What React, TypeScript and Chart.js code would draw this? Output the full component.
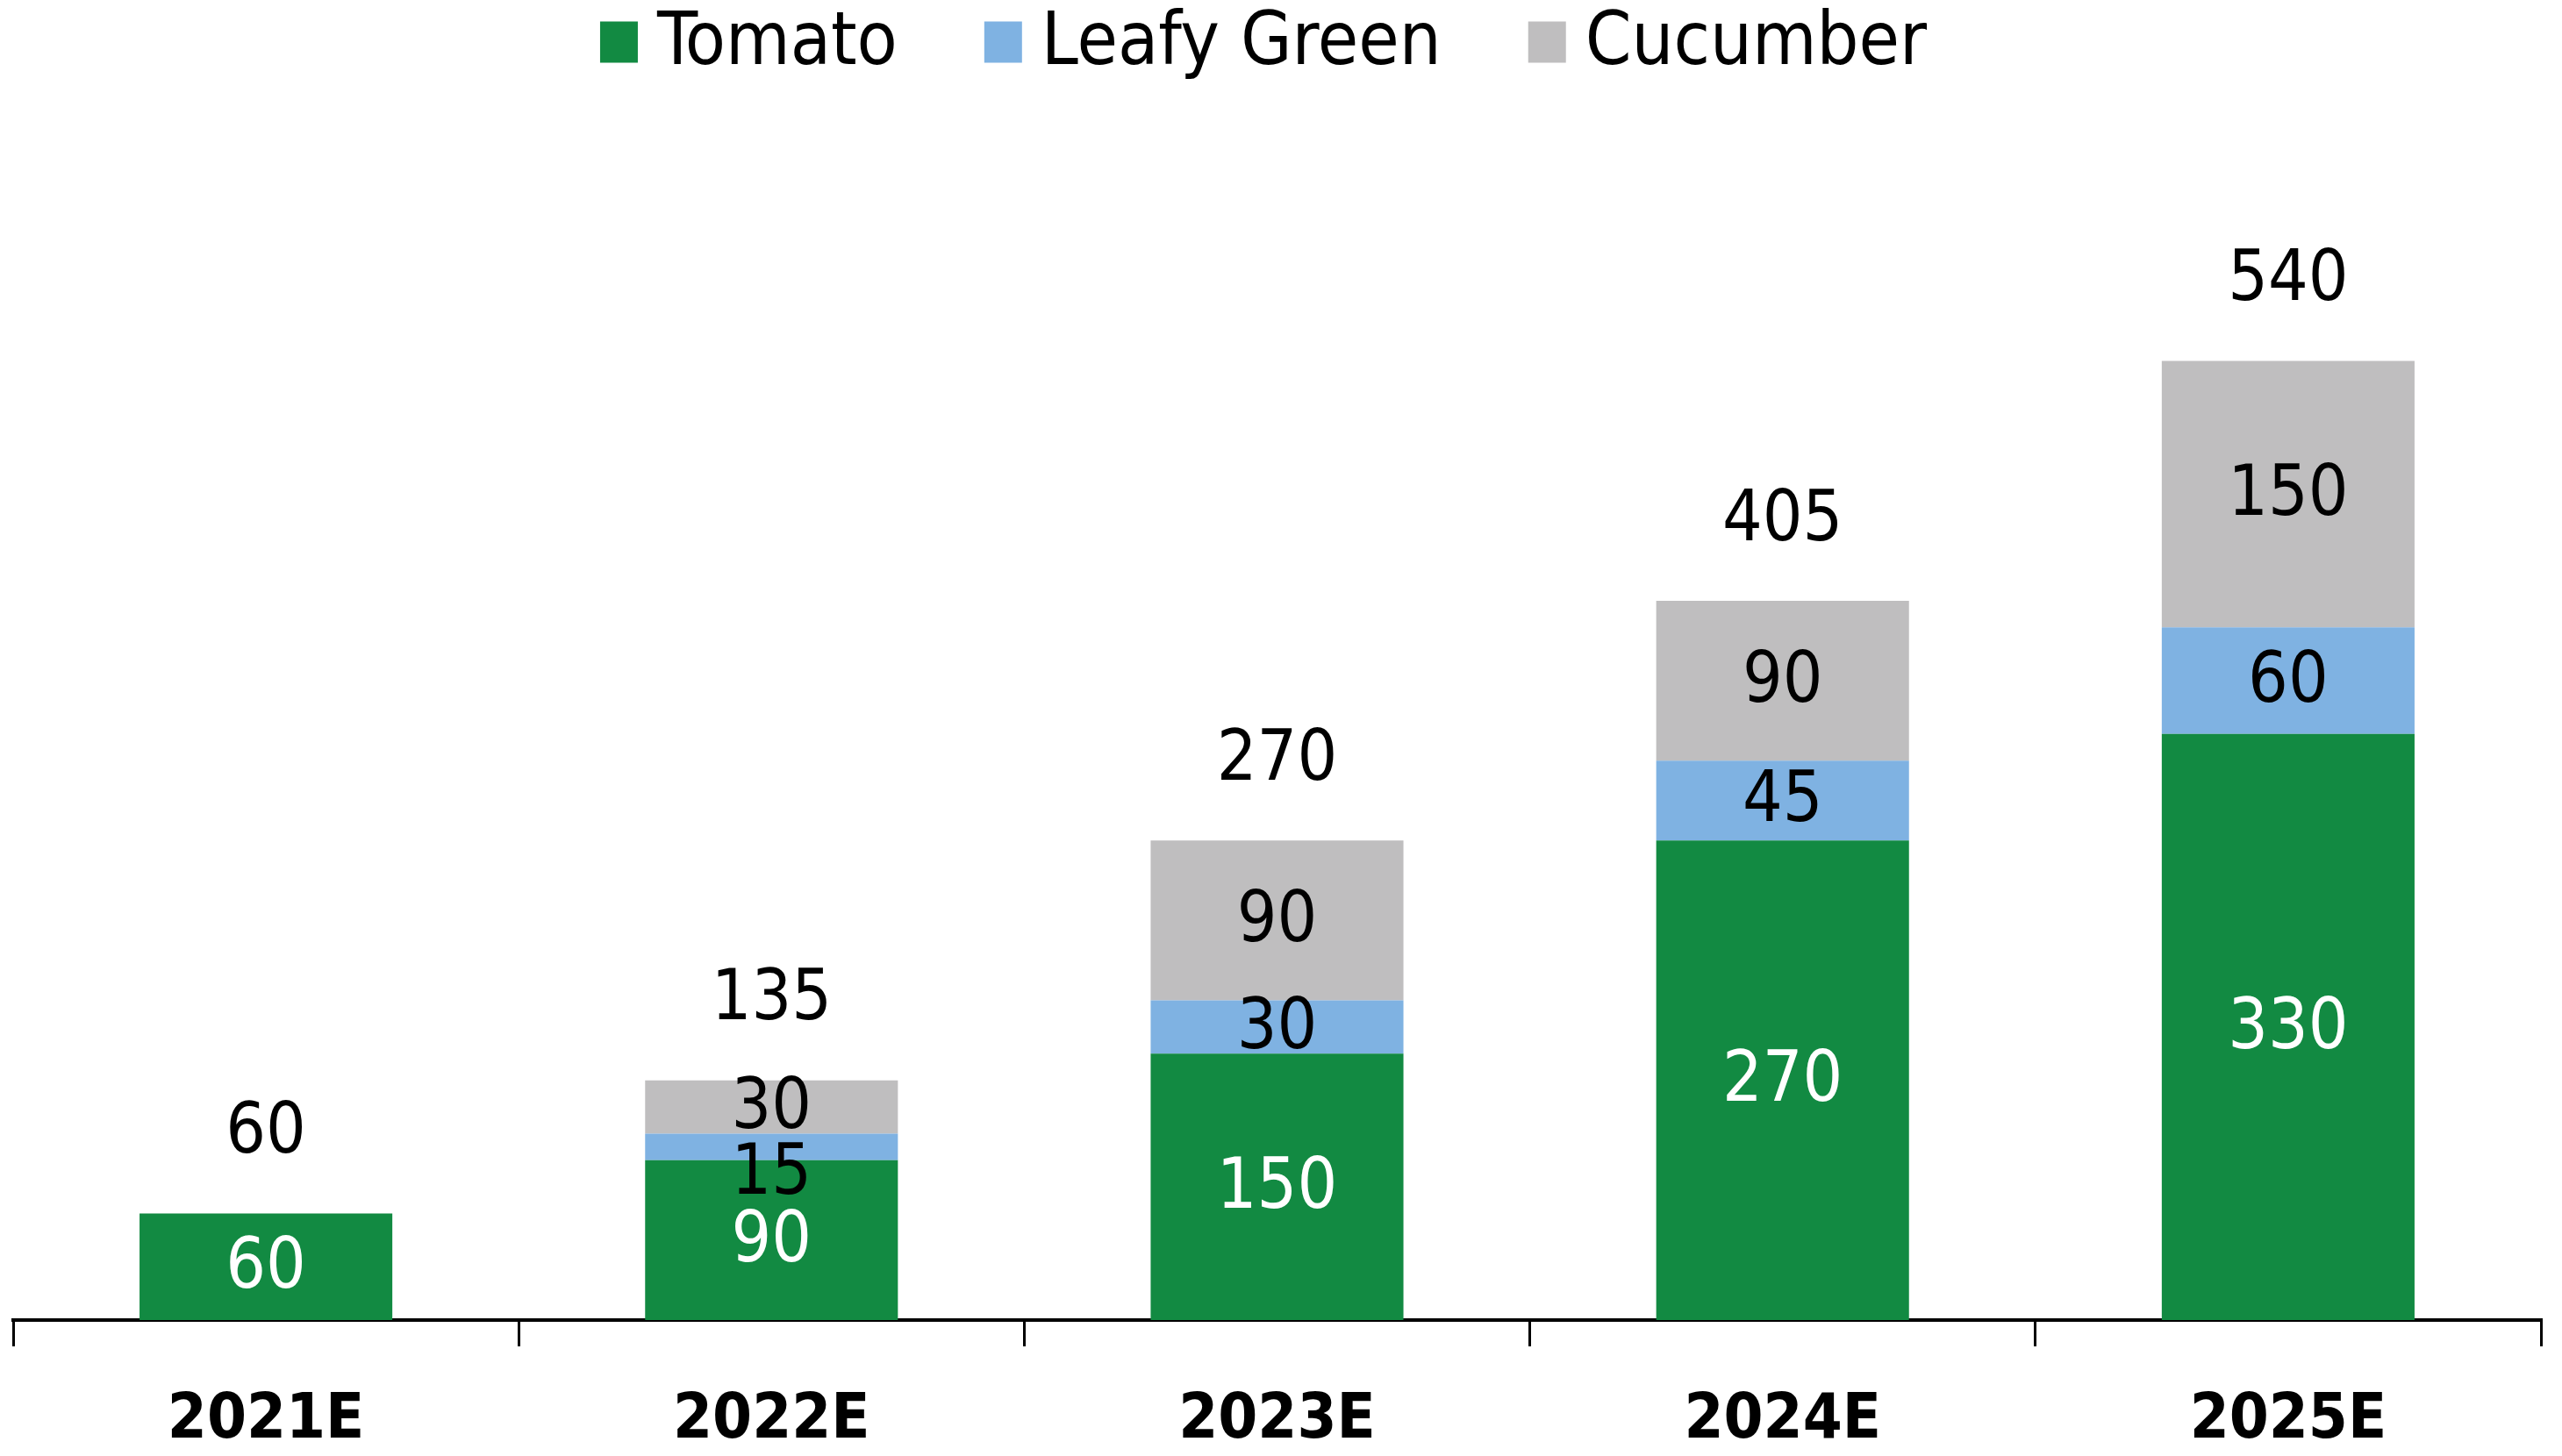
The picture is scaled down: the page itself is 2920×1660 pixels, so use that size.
import React, { useEffect, useRef } from "react";
import { Chart, registerables } from "chart.js";

Chart.register(...registerables);

const categories = ["2021E", "2022E", "2023E", "2024E", "2025E"];
const tomato = [60, 90, 150, 270, 330];
const leafyGreen = [0, 15, 30, 45, 60];
const cucumber = [0, 30, 90, 90, 150];
const seriesNames = ["Tomato", "Leafy Green", "Cucumber"];
const seriesColors = ["#128a42", "#7fb2e2", "#bfbebf"];
const labelColors = ["#ffffff", "#000000", "#000000"];

const FONT = "'DejaVu Sans Condensed', 'Liberation Sans Narrow', sans-serif";

const segmentLabels = {
  id: "segmentLabels",
  afterDatasetsDraw(chart: any) {
    const ctx = chart.ctx;
    ctx.save();
    ctx.font = `80px ${FONT}`;
    ctx.textAlign = "center";
    ctx.textBaseline = "middle";
    const n = chart.data.labels.length;
    for (let i = 0; i < n; i++) {
      let topY = Infinity;
      let total = 0;
      let x = 0;
      chart.data.datasets.forEach((ds: any, d: number) => {
        if (!chart.isDatasetVisible(d)) return;
        const el = chart.getDatasetMeta(d).data[i];
        const v = ds.data[i];
        if (!el) return;
        x = el.x;
        total += v;
        if (v > 0) {
          topY = Math.min(topY, el.y);
          const h = el.base - el.y;
          let cy = (el.y + el.base) / 2 + 3;
          if (h < 40) cy += 30;
          ctx.fillStyle = labelColors[d];
          ctx.fillText(String(v), el.x, cy);
        }
      });
      ctx.fillStyle = "#000000";
      ctx.fillText(String(total), x, topY - 90);
    }
    ctx.restore();
  },
};

const topLegend = {
  id: "topLegend",
  afterDraw(chart: any) {
    const ctx = chart.ctx;
    ctx.save();
    ctx.font = `84px ${FONT}`;
    ctx.textBaseline = "middle";
    ctx.textAlign = "left";
    const box = 43;
    const boxH = 47;
    const gap = 22;
    const itemGap = 99;
    const ds = chart.data.datasets;
    const widths = ds.map((d: any) => box + gap + ctx.measureText(d.label).width);
    const total = widths.reduce((a: number, b: number) => a + b, 0) + itemGap * (widths.length - 1);
    let x = chart.width / 2 - 20 - total / 2;
    const cy = 48;
    ds.forEach((d: any, i: number) => {
      ctx.fillStyle = d.backgroundColor;
      ctx.fillRect(x, cy - boxH / 2, box, boxH);
      ctx.fillStyle = "#000000";
      ctx.fillText(d.label, x + box + gap, cy + 3);
      x += widths[i] + itemGap;
    });
    ctx.restore();
  },
};

export default function App() {
  const canvasRef = useRef<HTMLCanvasElement | null>(null);

  useEffect(() => {
    if (!canvasRef.current) return;
    const values = [tomato, leafyGreen, cucumber];
    const chart = new Chart(canvasRef.current, {
      type: "bar",
      data: {
        labels: categories,
        datasets: seriesNames.map((name, i) => ({
          label: name,
          data: values[i],
          backgroundColor: seriesColors[i],
          borderWidth: 0,
          barPercentage: 0.5,
          categoryPercentage: 1.0,
        })),
      },
      options: {
        responsive: false,
        animation: false,
        devicePixelRatio: 1,
        layout: { padding: { top: 290, left: 15, right: 24, bottom: -45 } },
        plugins: {
          legend: { display: false },
          tooltip: { enabled: false },
        },
        scales: {
          x: {
            stacked: true,
            border: { display: true, color: "#000000", width: 4 },
            grid: {
              display: true,
              drawOnChartArea: false,
              drawTicks: true,
              tickLength: 30,
              color: "#000000",
              lineWidth: 3,
              offset: true,
            },
            ticks: {
              color: "#000000",
              padding: 49,
              font: { family: FONT, size: 72, weight: "bold", lineHeight: 1 },
              maxRotation: 0,
            },
          },
          y: {
            stacked: true,
            display: false,
            min: 0,
            max: 600,
          },
        },
      },
      plugins: [segmentLabels, topLegend],
    });
    return () => chart.destroy();
  }, []);

  return (
    <div style={{ position: "absolute", left: 0, top: 0, width: 2920, height: 1660, background: "#ffffff" }}>
      <canvas ref={canvasRef} width={2920} height={1660} style={{ display: "block" }} />
    </div>
  );
}
